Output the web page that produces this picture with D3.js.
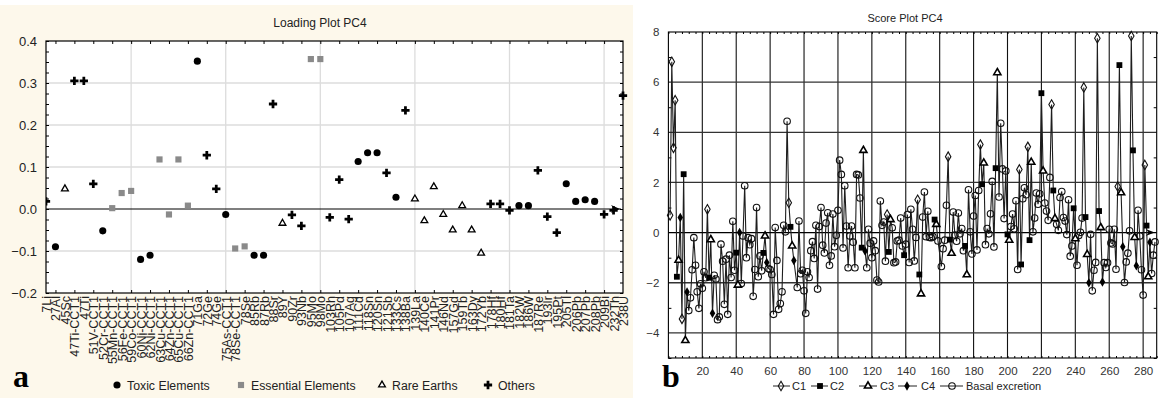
<!DOCTYPE html>
<html><head><meta charset="utf-8">
<script src="https://cdn.jsdelivr.net/npm/d3@7"></script>
<style>body{margin:0;background:#fff}svg{display:block;font-family:Arial,"Liberation Sans",sans-serif}</style>
</head><body><svg id="c" width="1159" height="398"></svg>
<script>
// ---------- Panel a data ----------
const elementLabels = ["7Li","27Al","45Sc","47Ti-CCT1","47Ti","51V-CCT1","52Cr-CCT1","55Mn-CCT1","56Fe-CCT1","59Co-CCT1","60Ni-CCT1","62Ni-CCT1","63Cu-CCT1","64Zn-CCT1","65Cu-CCT1","66Zn-CCT1","71Ga","72Ge","74Ge","75As-CCT1","78Se-CCT1","78Se","85Rb","87Rb","88Sr","89Y","90Zr","93Nb","95Mo","98Mo","103Rh","105Pd","107Ag","111Cd","118Sn","120Sn","121Sb","133Cs","138Ba","139La","140Ce","141Pr","146Nd","157Gd","159Tb","163Dy","172Yb","178Hf","180Hf","181Ta","182W","186W","187Re","193Ir","195Pt","205Tl","206Pb","207Pb","208Pb","209Bi","232Th","238U"];
const loadingValues = [0.018,-0.09,0.048,0.305,0.305,0.06,-0.052,0.002,0.038,0.043,-0.12,-0.11,0.118,-0.013,0.118,0.008,0.352,0.128,0.048,-0.013,-0.094,-0.089,-0.11,-0.11,0.25,-0.034,-0.014,-0.04,0.357,0.357,-0.02,0.07,-0.024,0.113,0.134,0.134,0.086,0.028,0.235,0.024,-0.028,0.053,-0.013,-0.05,0.008,-0.05,-0.105,0.012,0.012,-0.003,0.008,0.008,0.092,-0.018,-0.056,0.06,0.018,0.022,0.018,-0.013,-0.003,0.27];
const elementGroups = ["O","T","R","O","O","O","T","E","E","E","T","T","E","E","E","E","T","O","O","T","E","E","T","T","O","R","O","O","E","E","O","O","O","T","T","T","O","T","O","R","R","R","R","R","R","R","R","O","O","O","T","T","O","O","O","T","T","T","T","O","O","O"];
const groupNames = {T:"Toxic Elements",E:"Essential Elements",R:"Rare Earths",O:"Others"};
const loadingYTicks = [-0.2,-0.1,0.0,0.1,0.2,0.3,0.4];

// ---------- Panel b data: [sample index, score] ----------
const c1 = [[1,0.69],[2,6.81],[3,3.38],[4,5.28],[8,-3.44],[23,0.93],[71,1.19],[129,0.72],[147,1.31],[165,3.03],[184,3.51],[207,2.52],[212,3.42],[226,5.11],[245,5.79],[253,7.75],[265,1.84],[273,7.84],[281,2.7]];
const c2 = [[5,-1.76],[9,2.33],[24,-1.8],[40,-0.8],[56,-0.81],[72,0.23],[114,-0.6],[130,-0.77],[139,-0.9],[148,-1.67],[157,0.52],[166,-0.28],[175,-0.53],[185,1.93],[193,2.57],[200,-0.07],[208,-1.27],[213,-0.3],[220,5.56],[227,1.68],[239,0.97],[246,0.62],[254,0.86],[266,6.68],[274,3.28],[282,0.28]];
const c3 = [[6,-1.1],[10,-4.3],[25,-0.28],[41,-2.09],[57,-0.13],[73,-0.53],[115,3.28],[131,0.52],[149,-2.44],[158,0.33],[167,-0.82],[176,-1.68],[186,2.78],[194,6.38],[201,-0.3],[214,2.81],[221,2.46],[228,0.56],[240,-0.24],[247,-0.87],[255,0.2],[267,1.59],[275,-0.19],[283,-1.76]];
const c4 = [[7,0.6],[11,-2.37],[26,-3.22],[42,0.0],[58,-1.19],[74,-1.11],[116,-0.73],[248,-2.0],[256,-1.97],[268,-0.56],[276,-1.32],[284,-0.38]];
const basal = [[12,-3.11],[13,-2.6],[14,-1.48],[15,-0.2],[16,-1.3],[17,-2.36],[18,-3.02],[19,-2.04],[20,-2.22],[21,-1.56],[22,-1.8],[27,-1.7],[28,-1.85],[29,-3.47],[30,-3.36],[31,-0.46],[32,-1.14],[33,-2.86],[34,-1.06],[35,-3.26],[36,-0.9],[37,-1.79],[38,0.45],[39,-1.5],[43,-2.03],[44,-0.13],[45,1.87],[46,-1.0],[47,-0.2],[48,-0.48],[49,-0.24],[50,-2.54],[51,-1.47],[52,1.0],[53,-1.76],[54,-0.93],[55,-1.52],[59,-1.43],[60,-1.47],[61,-1.67],[62,-3.26],[63,0.2],[64,-1.11],[65,-3.06],[66,-2.83],[67,-2.36],[68,0.29],[69,0.03],[70,4.44],[76,-2.19],[77,0.46],[78,-1.64],[79,-1.5],[80,-2.32],[81,-3.22],[82,-1.56],[83,-1.79],[84,-0.72],[85,-0.36],[86,-1.03],[87,0.29],[88,-2.25],[89,0.24],[90,1.0],[91,-0.5],[92,-0.81],[93,0.38],[94,0.79],[95,-1.3],[96,-0.93],[97,0.74],[98,-0.56],[99,-0.11],[100,0.89],[101,2.89],[102,2.32],[103,-0.61],[104,1.87],[105,0.26],[106,-1.4],[107,-0.13],[108,0.26],[109,-0.38],[110,-1.4],[111,2.32],[112,2.3],[113,1.38],[117,-1.4],[118,0.13],[119,-0.42],[120,-1.0],[121,-0.33],[122,-0.72],[123,-1.89],[124,-1.97],[125,1.26],[126,0.29],[127,0.42],[128,-1.14],[132,0.19],[133,-1.2],[134,-1.17],[135,-0.33],[136,-0.3],[137,0.58],[138,-0.53],[140,-0.46],[141,0.72],[142,-1.19],[143,0.93],[144,0.13],[145,-1.13],[146,-0.19],[150,0.62],[151,1.62],[152,-0.16],[153,0.85],[154,-0.19],[155,-0.2],[156,-0.16],[159,-0.33],[161,-1.35],[162,-0.64],[163,-0.3],[164,1.09],[168,0.82],[169,-0.1],[170,-0.34],[171,0.78],[172,-0.05],[173,0.16],[174,-0.72],[177,1.71],[178,0.03],[179,-0.85],[180,0.66],[181,1.48],[182,-0.69],[183,1.68],[187,-0.48],[188,0.16],[189,-0.05],[190,0.75],[191,2.04],[192,-0.57],[195,1.42],[196,4.36],[197,2.54],[198,0.56],[199,2.46],[202,0.24],[203,0.74],[204,0.15],[205,1.27],[206,-1.47],[209,1.35],[210,1.79],[211,1.51],[215,0.03],[216,0.58],[217,1.58],[218,1.13],[219,1.55],[222,1.18],[223,0.86],[224,0.49],[225,2.2],[229,0.33],[230,0.09],[231,1.4],[232,1.64],[233,0.6],[234,0.46],[235,-0.08],[236,1.31],[237,-0.94],[238,-0.53],[241,-1.3],[242,-0.12],[243,0.01],[244,0.58],[249,-0.07],[250,-2.32],[251,-1.5],[252,-1.19],[257,-1.2],[258,-1.39],[259,-1.2],[260,0.13],[261,-0.41],[262,-0.45],[263,0.13],[264,-1.46],[269,-1.99],[270,-1.17],[271,-0.82],[272,0.07],[277,0.89],[278,-0.13],[279,-1.48],[280,-2.49],[285,-1.63],[286,-0.9],[287,-0.37]];
const scoreSeriesNames = ["C1","C2","C3","C4","Basal excretion"];
const scoreXTicks = [20,40,60,80,100,120,140,160,180,200,220,240,260,280];
const scoreYTicks = [-4,-2,0,2,4,6,8];

const svg = d3.select("#c");

// ================= Panel a =================
svg.append("rect").attr("x",0).attr("y",5).attr("width",633).attr("height",393).attr("fill","#fdf8eb");
const xa = d3.scaleLinear().domain([1,62]).range([46,623]);
const ya = d3.scaleLinear().domain([-0.2,0.4]).range([293,41]);
const ga = svg.append("g");
ga.append("rect").attr("x",xa(1)).attr("y",ya(0.4)).attr("width",xa(62)-xa(1)).attr("height",ya(-0.2)-ya(0.4)).attr("fill","#fff");
ga.append("g").selectAll("line").data([10,20,30,40,50,60]).join("line")
  .attr("x1",d=>xa(d)).attr("x2",d=>xa(d)).attr("y1",ya(0.4)).attr("y2",ya(-0.2))
  .attr("stroke","#dcdcdc").attr("stroke-width",1.3);
ga.append("g").selectAll("line").data([-0.1,0.1,0.2,0.3]).join("line")
  .attr("y1",d=>ya(d)).attr("y2",d=>ya(d)).attr("x1",xa(1)).attr("x2",xa(62))
  .attr("stroke","#dcdcdc").attr("stroke-width",1.3);
const minorYA = d3.range(-0.2,0.4001,0.025);
const minorXA = d3.range(2,62,2);
ga.append("g").attr("transform",`translate(${xa(1)},0)`).call(d3.axisRight(ya).tickValues(minorYA).tickSize(3).tickFormat("")).call(g=>g.select(".domain").remove());
ga.append("g").attr("transform",`translate(${xa(62)},0)`).call(d3.axisLeft(ya).tickValues(minorYA).tickSize(3).tickFormat("")).call(g=>g.select(".domain").remove());
ga.append("g").attr("transform",`translate(0,${ya(0.4)})`).call(d3.axisBottom(xa).tickValues(minorXA).tickSize(3).tickFormat("")).call(g=>g.select(".domain").remove());
ga.append("g").attr("transform",`translate(0,${ya(-0.2)})`).call(d3.axisTop(xa).tickValues(minorXA).tickSize(3).tickFormat("")).call(g=>g.select(".domain").remove());
ga.append("rect").attr("x",xa(1)).attr("y",ya(0.4)).attr("width",xa(62)-xa(1)).attr("height",ya(-0.2)-ya(0.4)).attr("fill","none").attr("stroke","#000").attr("stroke-width",1.2);
ga.append("g").attr("transform",`translate(${xa(1)-6},0)`)
  .call(d3.axisLeft(ya).tickValues(loadingYTicks).tickSize(0).tickFormat(d3.format(".1f")))
  .call(g=>{g.select(".domain").remove();g.selectAll("text").attr("font-size",13).attr("fill","#222").attr("font-family","Arial, Liberation Sans, sans-serif");});
ga.append("g").attr("transform",`translate(0,${ya(-0.2)})`)
  .call(d3.axisBottom(xa).tickValues(d3.range(1,63)).tickSize(0).tickFormat(i=>elementLabels[i-1]))
  .call(g=>{g.select(".domain").remove();
    g.selectAll("text").attr("transform","rotate(-90)").attr("text-anchor","end").attr("x",-3).attr("y",0).attr("dy","0.36em")
     .attr("font-size",12.5).attr("fill","#222").attr("font-family","Arial, Liberation Sans, sans-serif");});
ga.append("line").attr("x1",xa(1)).attr("x2",xa(62)-2).attr("y1",ya(0)).attr("y2",ya(0)).attr("stroke","#000").attr("stroke-width",1.2);
ga.append("path").attr("d",`M${xa(62)-12},${ya(0)-4}L${xa(62)-3},${ya(0)}L${xa(62)-12},${ya(0)+4}L${xa(62)-9},${ya(0)}Z`).attr("fill","#000");
svg.append("text").attr("x",320).attr("y",27).attr("text-anchor","middle").attr("font-size",12).attr("fill","#222").text("Loading Plot PC4");
const symA = {
  T: d3.symbol().type(d3.symbolCircle).size(40)(),
  E: d3.symbol().type(d3.symbolSquare).size(38)(),
  R: d3.symbol().type(d3.symbolTriangle).size(20)(),
  O: d3.symbol().type(d3.symbolCross).size(38)()
};
function styleA(sel,g){
  if(g==="T") sel.attr("fill","#000");
  else if(g==="E") sel.attr("fill","#8a8a8a");
  else if(g==="R") sel.attr("fill","#fff").attr("stroke","#000").attr("stroke-width",1.3);
  else sel.attr("fill","#000");
}
svg.append("clipPath").attr("id","clipA").append("rect").attr("x",xa(1)).attr("y",ya(0.4)-10).attr("width",xa(62)-xa(1)+10).attr("height",ya(-0.2)-ya(0.4)+20);
const mA = ga.append("g").attr("clip-path","url(#clipA)");
loadingValues.forEach((v,i)=>{
  const g = elementGroups[i];
  const p = mA.append("path").attr("d",symA[g]).attr("transform",`translate(${xa(i+1)},${ya(v)})`);
  styleA(p,g);
});
svg.append("text").attr("x",13).attr("y",387).attr("font-family","Liberation Serif, Times New Roman, serif").attr("font-weight","bold").attr("font-size",32).attr("fill","#000").text("a");
const legA = [["T",117],["E",241],["R",382],["O",488]];
legA.forEach(([g,x])=>{
  const p = svg.append("path").attr("d",symA[g]).attr("transform",`translate(${x},385)`);
  styleA(p,g);
  svg.append("text").attr("x",x+10).attr("y",389.5).attr("font-size",12.3).attr("fill","#222").text(groupNames[g]);
});

// ================= Panel b =================
const xb = d3.scaleLinear().domain([0,288]).range([668.4,1156.7]);
const yb = d3.scaleLinear().domain([-5,8]).range([358,32]);
const gb = svg.append("g");
gb.append("g").selectAll("line").data(scoreXTicks).join("line")
  .attr("x1",d=>xb(d)).attr("x2",d=>xb(d)).attr("y1",yb(8)).attr("y2",yb(-5)).attr("stroke","#111").attr("stroke-width",1.1);
gb.append("g").selectAll("line").data([-4,-2,2,4,6]).join("line")
  .attr("y1",d=>yb(d)).attr("y2",d=>yb(d)).attr("x1",xb(0)).attr("x2",xb(288)).attr("stroke","#333").attr("stroke-width",1.3);
const minorXB = d3.range(0,289,4);
const minorYB = [-5,-3,-1,1,3,5,7];
gb.append("g").attr("transform",`translate(0,${yb(8)})`).call(d3.axisBottom(xb).tickValues(minorXB).tickSize(2).tickFormat("")).call(g=>g.select(".domain").remove());
gb.append("g").attr("transform",`translate(0,${yb(-5)})`).call(d3.axisTop(xb).tickValues(minorXB).tickSize(2).tickFormat("")).call(g=>g.select(".domain").remove());
gb.append("g").attr("transform",`translate(${xb(0)},0)`).call(d3.axisRight(yb).tickValues(minorYB).tickSize(3).tickFormat("")).call(g=>g.select(".domain").remove());
gb.append("g").attr("transform",`translate(${xb(288)},0)`).call(d3.axisLeft(yb).tickValues(minorYB).tickSize(3).tickFormat("")).call(g=>g.select(".domain").remove());
gb.append("rect").attr("x",xb(0)).attr("y",yb(8)).attr("width",xb(288)-xb(0)).attr("height",yb(-5)-yb(8)).attr("fill","none").attr("stroke","#000").attr("stroke-width",1.1);
gb.append("g").attr("transform",`translate(${xb(0)-6},0)`)
  .call(d3.axisLeft(yb).tickValues(scoreYTicks).tickSize(0))
  .call(g=>{g.select(".domain").remove();g.selectAll("text").attr("font-size",11.5).attr("fill","#333").attr("font-family","Arial, Liberation Sans, sans-serif");});
gb.append("g").attr("transform",`translate(0,${yb(-5)+6})`)
  .call(d3.axisBottom(xb).tickValues(scoreXTicks).tickSize(0))
  .call(g=>{g.select(".domain").remove();g.selectAll("text").attr("font-size",11.5).attr("fill","#333").attr("font-family","Arial, Liberation Sans, sans-serif");});
svg.append("text").attr("x",905).attr("y",22).attr("text-anchor","middle").attr("font-size",11).attr("fill","#222").text("Score Plot PC4");
gb.append("line").attr("x1",xb(0)).attr("x2",xb(288)).attr("y1",yb(0)).attr("y2",yb(0)).attr("stroke","#000").attr("stroke-width",1.3);
gb.append("path").attr("d",`M${xb(288)-11},${yb(0)-3.5}L${xb(288)-2},${yb(0)}L${xb(288)-11},${yb(0)+3.5}L${xb(288)-8},${yb(0)}Z`).attr("fill","#000");
const series = [c1,c2,c3,c4,basal];
const all = [];
series.forEach((arr,si)=>arr.forEach(d=>all.push({i:d[0],v:d[1],s:si})));
all.sort((a,b)=>a.i-b.i);
gb.append("path").datum(all).attr("fill","none").attr("stroke","#1e1e1e").attr("stroke-width",1.1)
  .attr("d",d3.line().x(d=>xb(d.i)).y(d=>yb(d.v)));
const symB = [
  d3.symbol().type(d3.symbolDiamond).size(26)(),
  d3.symbol().type(d3.symbolSquare).size(34)(),
  d3.symbol().type(d3.symbolTriangle).size(22)(),
  d3.symbol().type(d3.symbolDiamond).size(26)(),
  d3.symbol().type(d3.symbolCircle).size(34)()
];
function styleB(sel,s){
  if(s===0) sel.attr("fill","none").attr("stroke","#111").attr("stroke-width",1.1);
  else if(s===1) sel.attr("fill","#000");
  else if(s===2) sel.attr("fill","#fff").attr("stroke","#000").attr("stroke-width",1.6);
  else if(s===3) sel.attr("fill","#000");
  else sel.attr("fill","none").attr("stroke","#111").attr("stroke-width",1.1);
}
const order = [4,0,3,2,1];
order.forEach(s=>{
  series[s].forEach(d=>{
    const p = gb.append("path").attr("d",symB[s]).attr("transform",`translate(${xb(d[0])},${yb(d[1])})`);
    styleB(p,s);
  });
});
svg.append("text").attr("x",662).attr("y",387).attr("font-family","Liberation Serif, Times New Roman, serif").attr("font-weight","bold").attr("font-size",32).attr("fill","#000").text("b");
const legB = [[773,790,781,792],[811,828,820,830],[859,877,868,880],[898,917,907,921],[940,963,952,966]];
legB.forEach(([x1,x2,mx,tx],s)=>{
  svg.append("line").attr("x1",x1).attr("x2",x2).attr("y1",386).attr("y2",386).attr("stroke","#222").attr("stroke-width",1);
  const p = svg.append("path").attr("d",symB[s]).attr("transform",`translate(${mx},386)`);
  styleB(p,s);
  svg.append("text").attr("x",tx).attr("y",390).attr("font-size",11).attr("fill","#222").text(scoreSeriesNames[s]);
});
</script></body></html>
